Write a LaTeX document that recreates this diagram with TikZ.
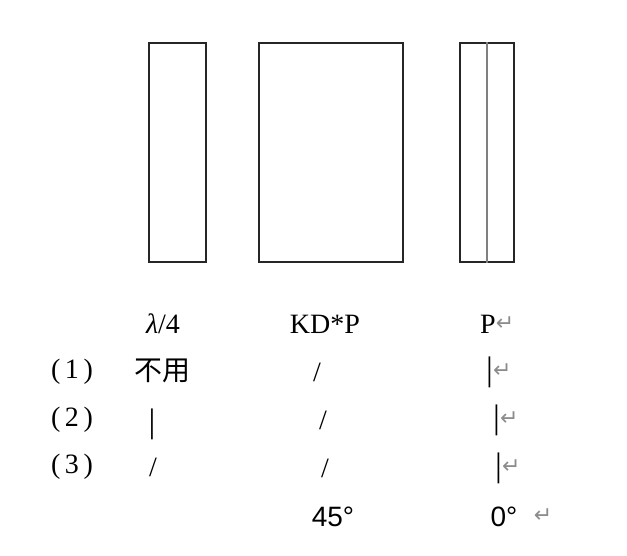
\documentclass[tikz,border=0pt]{standalone}
\usepackage{fontspec}
\setmainfont{Liberation Serif}
\newfontfamily\cjk{Noto Sans CJK SC}
\newfontfamily\arial{Liberation Sans}
\newfontfamily\symb{DejaVu Sans}
\newcommand{\retmark}{\raisebox{3pt}{\symb\color{black!45}\fontsize{22}{22}\selectfont ↵}}
\newcommand{\tallbar}{{\fontsize{34}{34}\selectfont |}}

\begin{document}
\begin{tikzpicture}[x=1pt, y=-1pt,
	every node/.style={inner sep=0pt, font=\fontsize{28}{30}\selectfont},
	plate/.style={draw=black!85, line width=1.3pt, minimum height=219pt}]
	\useasboundingbox (0,0) rectangle (627,555);
	
	%% the three plates
	\node[plate, minimum width=57pt] (qwp) at (177.5,152.5) {};
	\node[plate, minimum width=144pt] (kdp) at (331,152.5) {};
	\node[plate, minimum width=54pt] (pol) at (487,152.5) {};
	\draw [black!50, line width=2pt] (pol.north) -- (pol.south);
	
	%% column heads
	\node (hqwp) at (163,324) {\textit{λ}/4};
	\node (hkdp) at (325,324) {KD*P};
	\node[anchor=west] (hpol) at (480,324) {P\retmark};
	
	%% row numbers
	\node (r1) at (72,372) {(\,1\,)};
	\node (r2) at (72,420) {(\,2\,)};
	\node (r3) at (72,467) {(\,3\,)};
	
	%% lambda/4 column
	\node (q1) at (162,371) {\cjk 不用};
	\node (q2) at (152,424) {\tallbar};
	\node (q3) at (153,467) {/};
	
	%% KD*P column
	\node (k1) at (317,372) {/};
	\node (k2) at (323,420) {/};
	\node (k3) at (325,468) {/};
	
	%% polarizer column
	\node[anchor=west] (p1) at (486,372) {\tallbar\retmark};
	\node[anchor=west] (p2) at (493,420) {\tallbar\retmark};
	\node[anchor=west] (p3) at (495,468) {\tallbar\retmark};
	
	%% angles
	\node (a2) at (333,517) {\arial 45°};
	\node (a3) at (504,517) {\arial 0°};
	\node (a3r) at (543,517) {\retmark};
\end{tikzpicture}
\end{document}
